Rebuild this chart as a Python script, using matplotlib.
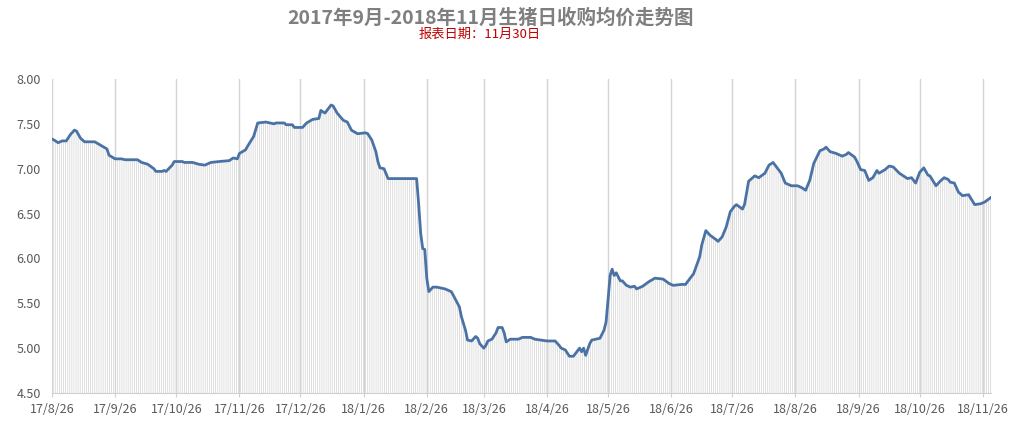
import datetime as dt
import matplotlib
matplotlib.use("Agg")
import matplotlib.pyplot as plt
import matplotlib.dates as mdates
from matplotlib.ticker import FuncFormatter

plt.rcParams['font.family'] = ['Noto Sans CJK SC', 'DejaVu Sans']
plt.rcParams['hatch.linewidth'] = 0.5

# chart texts
title = "2017年9月-2018年11月生猪日收购均价走势图"
subtitle = "报表日期：11月30日"

# data: days since 2017-08-26 and price (元/斤)
start_date = dt.date(2017, 8, 26)
day_offset = [
    0, 1, 3, 5, 7, 9, 11, 12, 14, 15, 16, 21, 24, 27, 28, 31, 34, 36, 42, 44,
    47, 50, 51, 54, 55, 56, 59, 60, 64, 65, 69, 72, 75, 78, 82, 87, 89, 91, 92, 95,
    96, 99, 101, 105, 109, 110, 114, 115, 118, 119, 123, 125, 128, 131, 132, 134, 135, 137, 138, 140,
    143, 145, 147, 150, 154, 155, 157, 159, 160, 161, 163, 165, 179, 180, 181, 182, 183, 184, 185, 187,
    189, 191, 193, 196, 197, 200, 201, 203, 204, 206, 208, 209, 210, 212, 213, 214, 216, 218, 219, 221,
    222, 223, 225, 229, 231, 235, 237, 243, 247, 249, 250, 252, 254, 256, 257, 259, 260, 261, 262, 264,
    265, 267, 269, 271, 272, 273, 274, 275, 276, 277, 279, 280, 282, 284, 286, 287, 290, 293, 296, 300,
    303, 305, 309, 311, 313, 315, 318, 319, 321, 323, 326, 327, 329, 331, 333, 335, 336, 339, 340, 342,
    345, 347, 350, 352, 354, 355, 358, 360, 363, 366, 368, 370, 372, 374, 377, 379, 380, 382, 385, 388,
    390, 391, 394, 395, 397, 399, 401, 403, 405, 406, 409, 411, 413, 416, 418, 420, 422, 424, 426, 428,
    430, 431, 434, 436, 438, 440, 441, 443, 445, 447, 450, 453, 456, 458, 461,
]
price = [
    7.33, 7.32, 7.29, 7.31, 7.31, 7.38, 7.43, 7.42, 7.34, 7.32, 7.30, 7.30, 7.26, 7.22, 7.15, 7.11, 7.11, 7.10, 7.10, 7.07,
    7.05, 7.00, 6.97, 6.97, 6.98, 6.97, 7.04, 7.08, 7.08, 7.07, 7.07, 7.05, 7.04, 7.07, 7.08, 7.09, 7.12, 7.11, 7.17, 7.21,
    7.25, 7.36, 7.51, 7.52, 7.50, 7.51, 7.51, 7.49, 7.49, 7.46, 7.46, 7.51, 7.55, 7.56, 7.65, 7.62, 7.65, 7.71, 7.70, 7.62,
    7.54, 7.52, 7.43, 7.39, 7.40, 7.39, 7.32, 7.19, 7.08, 7.01, 7.00, 6.89, 6.89, 6.61, 6.28, 6.11, 6.10, 5.78, 5.63, 5.68,
    5.68, 5.67, 5.66, 5.63, 5.59, 5.46, 5.35, 5.20, 5.09, 5.08, 5.13, 5.11, 5.05, 5.00, 5.03, 5.08, 5.10, 5.17, 5.23, 5.23,
    5.17, 5.07, 5.10, 5.10, 5.12, 5.12, 5.10, 5.08, 5.08, 5.03, 5.00, 4.98, 4.91, 4.91, 4.94, 5.00, 4.96, 5.00, 4.92, 5.05,
    5.09, 5.10, 5.11, 5.20, 5.29, 5.54, 5.81, 5.88, 5.81, 5.84, 5.75, 5.75, 5.70, 5.68, 5.69, 5.66, 5.69, 5.74, 5.78, 5.77,
    5.72, 5.70, 5.71, 5.71, 5.77, 5.83, 6.02, 6.15, 6.31, 6.26, 6.21, 6.19, 6.24, 6.35, 6.52, 6.58, 6.60, 6.55, 6.60, 6.86,
    6.92, 6.90, 6.95, 7.04, 7.07, 7.04, 6.95, 6.84, 6.81, 6.81, 6.79, 6.76, 6.87, 7.06, 7.20, 7.22, 7.24, 7.19, 7.17, 7.14,
    7.16, 7.18, 7.13, 7.09, 6.99, 6.98, 6.87, 6.90, 6.98, 6.95, 6.99, 7.03, 7.02, 6.95, 6.92, 6.89, 6.90, 6.84, 6.96, 7.01,
    6.93, 6.92, 6.81, 6.86, 6.90, 6.88, 6.85, 6.84, 6.74, 6.70, 6.71, 6.60, 6.61, 6.63, 6.68,
]
y_ticks = [4.5, 5.0, 5.5, 6.0, 6.5, 7.0, 7.5, 8.0]

dates = [start_date + dt.timedelta(days=d) for d in day_offset]

fig = plt.figure(figsize=(10.22, 4.22), dpi=100)
ax = fig.add_axes([52 / 1022, 29 / 422, 939 / 1022, 314 / 422])

# drop lines under the curve (light gray vertical hatch)
ax.fill_between(dates, price, y_ticks[0], facecolor="none", edgecolor="#d2d2d2",
                hatch="||||||||", linewidth=0, zorder=1)
ax.plot(dates, price, color="#4a72a5", linewidth=2.0, zorder=3,
        solid_joinstyle="round")

ax.set_ylim(y_ticks[0], y_ticks[-1])
ax.set_xlim(start_date, start_date + dt.timedelta(days=461.5))
ax.set_yticks(y_ticks)
ax.yaxis.set_major_formatter(FuncFormatter(lambda v, p: "%.2f" % v))

ax.xaxis.set_major_locator(mdates.MonthLocator(bymonthday=26))
ax.xaxis.set_major_formatter(FuncFormatter(
    lambda v, p: "%d/%d/%d" % (mdates.num2date(v).year % 100,
                               mdates.num2date(v).month,
                               mdates.num2date(v).day)))
ax.grid(axis="x", color="#d4d4d4", linewidth=1.0, zorder=2)
ax.set_axisbelow(False)

for side in ["top", "right", "left"]:
    ax.spines[side].set_visible(False)
ax.spines["bottom"].set_color("#d0d0d0")
ax.tick_params(axis="x", colors="#d0d0d0", length=3, pad=4, labelcolor="#595959",
               labelsize=9)
ax.tick_params(axis="y", length=0, pad=8, labelcolor="#595959", labelsize=9)

fig.text(0.48, 0.958, title, ha="center", va="center", fontsize=14,
         fontweight="bold", color="#7f7f7f")
fig.text(0.469, 0.918, subtitle, ha="center", va="center", fontsize=9.5,
         color="#c00000")

fig.savefig("out.png", dpi=100)
